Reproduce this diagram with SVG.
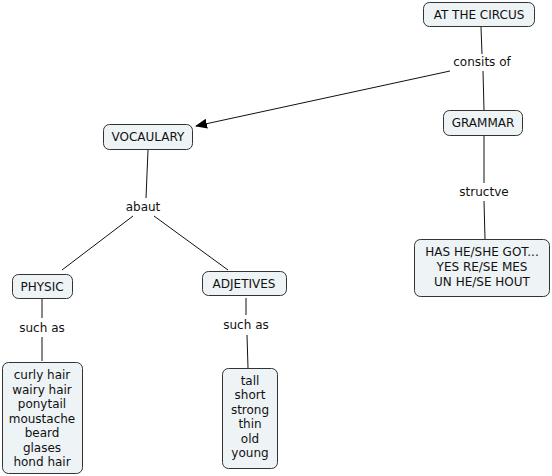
<svg xmlns="http://www.w3.org/2000/svg" width="552" height="476" viewBox="0 0 552 476">
<style>
.n{fill:#eef3f6;stroke:#333;stroke-width:1}
.t{font-family:"DejaVu Sans",Verdana,sans-serif;font-size:12px;fill:#111;text-anchor:middle}
.c{stroke:#111;stroke-width:1;fill:none}
</style>
<defs>
<marker id="ah" markerWidth="12" markerHeight="10" refX="11" refY="5" orient="auto" markerUnits="userSpaceOnUse">
<path d="M0,0 L12,5 L0,10 z" fill="#000"/>
</marker>
</defs>
<rect width="552" height="476" fill="#fff"/>
<g id="connectors">
<line class="c" x1="481" y1="27" x2="482" y2="54"/>
<line class="c" x1="483" y1="71" x2="484" y2="110"/>
<line class="c" x1="450" y1="71" x2="196" y2="126" marker-end="url(#ah)"/>
<line class="c" x1="484" y1="136" x2="484" y2="183"/>
<line class="c" x1="484" y1="201" x2="485" y2="239"/>
<line class="c" x1="148" y1="150" x2="146" y2="198"/>
<line class="c" x1="133" y1="216" x2="62" y2="270"/>
<line class="c" x1="154" y1="216" x2="228" y2="270"/>
<line class="c" x1="42" y1="299" x2="42" y2="318"/>
<line class="c" x1="42" y1="337" x2="42" y2="361"/>
<line class="c" x1="246" y1="298" x2="246" y2="315"/>
<line class="c" x1="247" y1="335" x2="248" y2="368"/>
</g>
<g id="lbl-consits"><text class="t" x="482" y="66">consits of</text></g>
<g id="lbl-structve"><text class="t" x="484" y="196">structve</text></g>
<g id="lbl-abaut"><text class="t" x="143" y="211">abaut</text></g>
<g id="lbl-suchas1"><text class="t" x="42" y="332">such as</text></g>
<g id="lbl-suchas2"><text class="t" x="246" y="329">such as</text></g>
<g id="circus"><rect class="n" x="423.5" y="2.5" width="111" height="24" rx="6"/><text class="t" x="479" y="19">AT THE CIRCUS</text></g>
<g id="grammar"><rect class="n" x="443.5" y="110.5" width="79" height="25" rx="6"/><text class="t" x="483" y="127">GRAMMAR</text></g>
<g id="vocaulary"><rect class="n" x="103.5" y="124.5" width="89" height="25" rx="6"/><text class="t" x="148" y="141">VOCAULARY</text></g>
<g id="has"><rect class="n" x="414.5" y="239.5" width="135" height="57" rx="6"/>
<text class="t" x="482" y="256">HAS HE/SHE GOT...</text>
<text class="t" x="482" y="271">YES RE/SE MES</text>
<text class="t" x="482" y="286">UN HE/SE HOUT</text></g>
<g id="physic"><rect class="n" x="12.5" y="274.5" width="60" height="24" rx="6"/><text class="t" x="42" y="291">PHYSIC</text></g>
<g id="adjetives"><rect class="n" x="202.5" y="271.5" width="84" height="24" rx="6"/><text class="t" x="244" y="288">ADJETIVES</text></g>
<g id="curly"><rect class="n" x="2.5" y="362.5" width="80" height="111" rx="6"/>
<text class="t" x="42" y="379">curly hair</text>
<text class="t" x="42" y="394">wairy hair</text>
<text class="t" x="42" y="408">ponytail</text>
<text class="t" x="42" y="423">moustache</text>
<text class="t" x="42" y="437">beard</text>
<text class="t" x="42" y="452">glases</text>
<text class="t" x="42" y="466">hond hair</text></g>
<g id="tall"><rect class="n" x="222.5" y="368.5" width="55" height="100" rx="6"/>
<text class="t" x="250" y="385">tall</text>
<text class="t" x="250" y="399">short</text>
<text class="t" x="250" y="414">strong</text>
<text class="t" x="250" y="428">thin</text>
<text class="t" x="250" y="443">old</text>
<text class="t" x="250" y="457">young</text></g>
</svg>
